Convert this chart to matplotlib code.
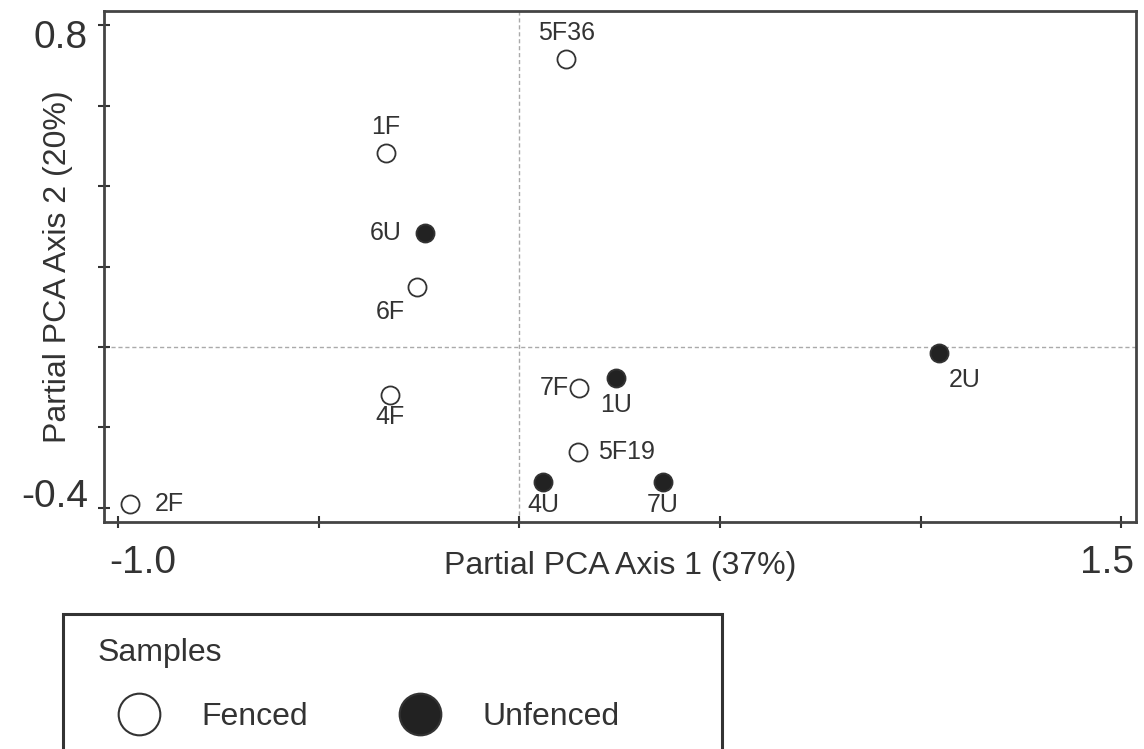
import numpy as np
import matplotlib.pyplot as plt
from matplotlib.lines import Line2D
from matplotlib.patches import Rectangle

plt.rcParams['font.family'] = ['Liberation Sans', 'DejaVu Sans']

INK = '#333333'
PX = 72 / 100  # points per pixel at dpi=100

# sample scores on the two partial PCA axes
samples = ['5F36', '1F', '6U', '6F', '4F', '2F', '7F', '1U', '5F19', '4U', '7U', '2U']
axis1 = [0.117, -0.332, -0.234, -0.254, -0.322, -0.970, 0.150, 0.242, 0.147, 0.060, 0.359, 1.045]
axis2 = [0.716, 0.483, 0.284, 0.149, -0.119, -0.391, -0.102, -0.077, -0.261, -0.336, -0.336, -0.015]
treatment = ['Fenced', 'Fenced', 'Unfenced', 'Fenced', 'Fenced', 'Fenced',
             'Fenced', 'Unfenced', 'Fenced', 'Unfenced', 'Unfenced', 'Unfenced']

x_ticks = [-1.0, -0.5, 0.0, 0.5, 1.0, 1.5]
y_ticks = [-0.4, -0.2, 0.0, 0.2, 0.4, 0.6, 0.8]
x_shown = ['-1.0', '1.5']
y_shown = ['0.8', '-0.4']

# where each sample label sits relative to its point (pixels: right, down)
label_pos = {'5F36': (0, -26), '1F': (0, -26), '6U': (-40, 0), '6F': (-27, 25),
             '4F': (0, 22), '2F': (39, 0), '7F': (-25, 0), '1U': (0, 27),
             '5F19': (48, 0), '4U': (0, 23), '7U': (-1, 23), '2U': (26, 27)}

fig = plt.figure(figsize=(11.44, 7.49), dpi=100)
ax = fig.add_axes([104 / 1144, 1 - 522 / 749, 1032 / 1144, 511 / 749])

x = np.array(axis1)
y = np.array(axis2)
tr = np.array(treatment)

ax.axvline(0, color='#aaaaaa', lw=1, ls=(0, (3, 2)), zorder=1)
ax.axhline(0, color='#aaaaaa', lw=1, ls=(0, (3, 2)), zorder=1)

styles = {'Fenced': 'white', 'Unfenced': '#222222'}
for grp, face in styles.items():
    m = tr == grp
    ax.plot(x[m], y[m], 'o', ms=13, mfc=face, mec=INK, mew=1.3, zorder=3)

for name, xi, yi in zip(samples, axis1, axis2):
    dx, dy = label_pos[name]
    ax.annotate(name, (xi, yi), xytext=(dx * PX, -dy * PX), textcoords='offset points',
                ha='center', va='center', fontsize=18, color=INK)

ax.set_xlim(-1.035, 1.537)
ax.set_ylim(-0.435, 0.835)
ax.set_xticks(x_ticks)
ax.set_yticks(y_ticks)
ax.set_xticklabels([])
ax.set_yticklabels([])
ax.tick_params(direction='inout', length=9, width=1.5, color=INK)
for sp in ax.spines.values():
    sp.set_color('#444444')
    sp.set_linewidth(2)

# only the end ticks carry numbers, nudged inward as in the original
for val, lab, off in zip([-1.0, 1.5], x_shown, [(25, 41), (-14, 41)]):
    ax.annotate(lab, (val, 0), xycoords=('data', 'axes fraction'),
                xytext=(off[0] * PX, -off[1] * PX), textcoords='offset points',
                ha='center', va='center', fontsize=28, color=INK, annotation_clip=False)
for val, lab, off in zip([0.8, -0.4], y_shown, [(-16, 13), (-16, -11)]):
    ax.annotate(lab, (0, val), xycoords=('axes fraction', 'data'),
                xytext=(off[0] * PX, -off[1] * PX), textcoords='offset points',
                ha='right', va='center', fontsize=28, color=INK, annotation_clip=False)

ax.set_xlabel('Partial PCA Axis 1 (37%)', fontsize=23, color=INK, va='center')
ax.xaxis.set_label_coords(0.5, (522 - 566) / 511)
ax.set_ylabel('Partial PCA Axis 2 (20%)', fontsize=23, color=INK, va='center')
ax.yaxis.set_label_coords((58 - 104) / 1032, 0.5)

# legend box runs off the bottom of the figure
fig.patches.append(Rectangle((63 / 1144, -0.02), 659 / 1144, (749 * 1.02 - 614) / 749,
                             transform=fig.transFigure, fill=False, ec=INK, lw=2.2))
handles = [Line2D([], [], ls='none', marker='o', ms=30, mfc=face, mec=INK, mew=1.5)
           for face in styles.values()]
fig.legend(handles, list(styles.keys()), loc='upper left',
           bbox_to_anchor=(98 / 1144, 1 - 638 / 749), ncol=2, title='Samples',
           alignment='left', frameon=False, fontsize=23, title_fontsize=23,
           borderpad=0, borderaxespad=0, handlelength=2.56, handletextpad=0.69,
           columnspacing=2.2, labelspacing=1.06, labelcolor=INK)
fig.legends[0].get_title().set_color(INK)

fig.savefig('out.png', dpi=100)
